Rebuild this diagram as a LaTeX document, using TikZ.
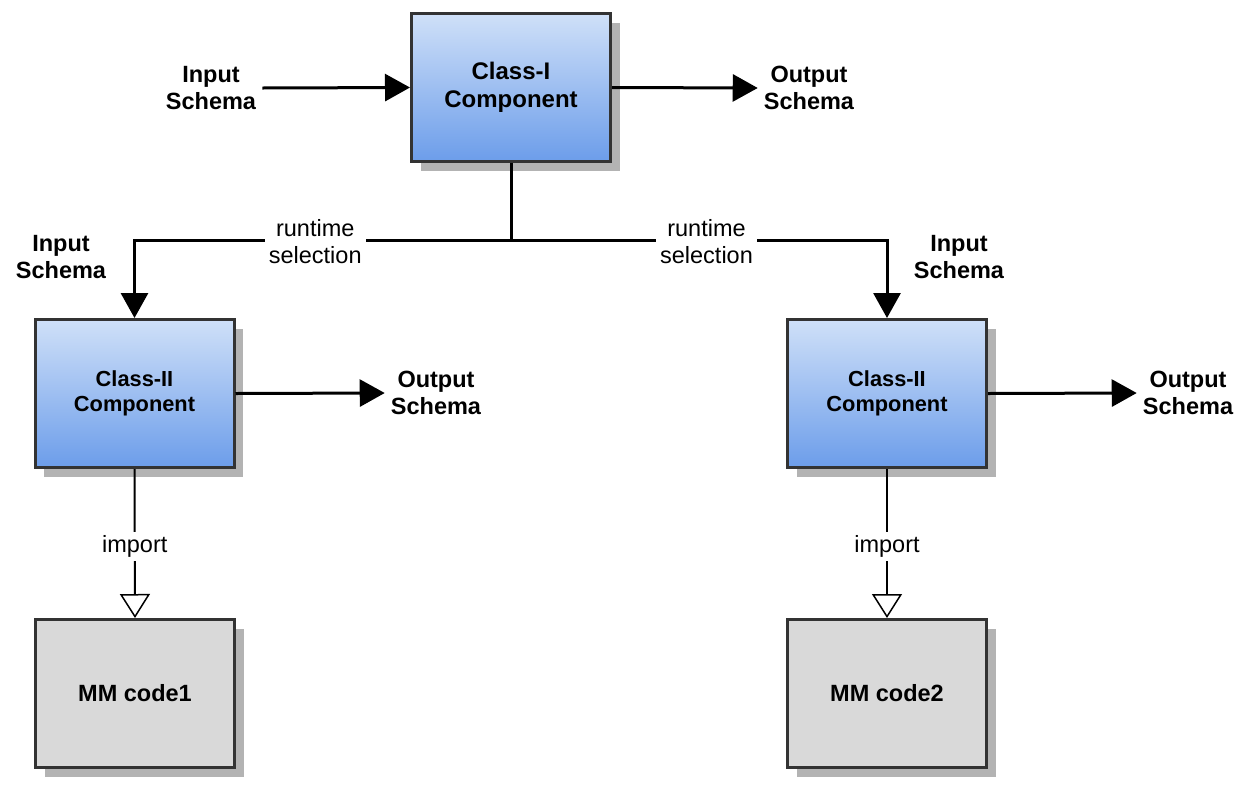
\documentclass[tikz,border=0pt]{standalone}
\usepackage{fontspec}
\setmainfont{Liberation Sans}
\usetikzlibrary{arrows.meta,shadows}
\definecolor{boxborder}{HTML}{333333}
\definecolor{shadowc}{HTML}{B3B3B3}
\definecolor{gradtop}{HTML}{CFE0F8}
\definecolor{gradbot}{HTML}{6C9DEA}
\definecolor{codefill}{HTML}{D9D9D9}
\begin{document}
\begin{tikzpicture}[x=1pt,y=-1pt,
  boxbase/.style={draw=boxborder, line width=3pt, minimum width=199pt, minimum height=148pt,
    align=center, drop shadow={shadow xshift=9pt, shadow yshift=-9pt, fill=shadowc, opacity=1}},
  comp/.style={boxbase, top color=gradtop, bottom color=gradbot,
    font=\bfseries\fontsize{24}{28}\selectfont},
  comptwo/.style={boxbase, top color=gradtop, bottom color=gradbot,
    font=\bfseries\fontsize{21.8}{25}\selectfont},
  codebox/.style={boxbase, fill=codefill, font=\bfseries\fontsize{23.5}{27}\selectfont},
  lab/.style={font=\bfseries\fontsize{23.5}{27}\selectfont, align=center, inner sep=6pt},
  sel/.style={font=\fontsize{23.5}{27}\selectfont, align=center, fill=white, inner sep=4pt},
  flow/.style={line width=3pt, -{Triangle[length=25pt,width=27pt]}},
  plainline/.style={line width=3pt},
  imp/.style={line width=2pt, -{Triangle[open,length=24pt,width=30pt,fill=white,line width=1.5pt]}}
]
\useasboundingbox (0,0) rectangle (1251,788);

\node[comp] (c1) at (511,87.5) {\raisebox{-2pt}{Class-I}\\\raisebox{-2pt}{Component}};
\node[comptwo] (c2a) at (134.5,393.5) {Class-II\\Component};
\node[comptwo] (c2b) at (887,393.5) {Class-II\\Component};
\node[codebox] (m1) at (135,693.5) {MM code1};
\node[codebox] (m2) at (887,693.5) {MM code2};

\node[lab] (in1) at (211,88) {Input\\Schema};
\node[lab] (out1) at (809,88) {Output\\Schema};
\node[lab] (in2) at (61,257) {Input\\Schema};
\node[lab] (in3) at (959,257) {Input\\Schema};
\node[lab] (out2) at (436,393) {Output\\Schema};
\node[lab] (out3) at (1188,393) {Output\\Schema};

\coordinate (j) at (511,240);

\draw[flow] (in1.east) -- (c1.west);
\draw[flow] (c1.east) -- (out1.west);
\draw[plainline] (c1.south) -- (j);
\draw[flow] (j) -| node[sel,pos=0.26,yshift=-2pt]{runtime\\selection} (c2a.north);
\draw[flow] (j) -| node[sel,pos=0.26,yshift=-2pt]{runtime\\selection} (c2b.north);
\draw[flow] (c2a.east) -- (out2.west);
\draw[flow] (c2b.east) -- (out3.west);
\draw[imp] (c2a.south) -- node[sel,pos=0.52]{import} (m1.north);
\draw[imp] (c2b.south) -- node[sel,pos=0.52]{import} (m2.north);
\end{tikzpicture}
\end{document}
